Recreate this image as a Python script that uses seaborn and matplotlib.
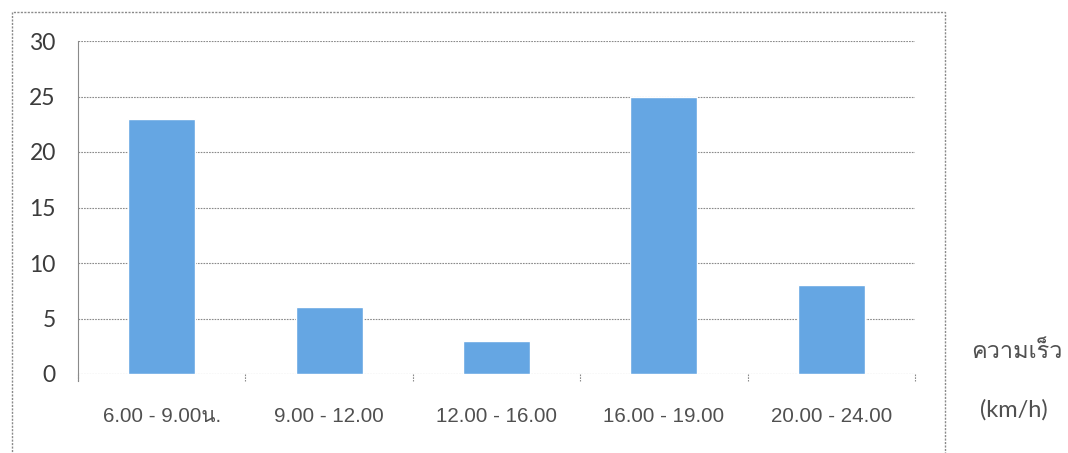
import matplotlib
matplotlib.use("Agg")
import matplotlib.pyplot as plt
import seaborn as sns
import pandas as pd
from matplotlib.patches import Rectangle

# Traffic speed by time of day
periods = ["6.00 - 9.00น.", "9.00 - 12.00", "12.00 - 16.00", "16.00 - 19.00", "20.00 - 24.00"]
speeds = [23, 6, 3, 25, 8]
y_ticks = [0, 5, 10, 15, 20, 25, 30]

sns.set_theme(style="white")
plt.rcParams["font.family"] = ["Liberation Sans", "Loma", "DejaVu Sans"]

df = pd.DataFrame({"period": periods, "speed": speeds})

W, H = 1068, 453
fig = plt.figure(figsize=(W / 100, H / 100), dpi=100)
ax = fig.add_axes([78 / W, 1 - 374 / H, (915 - 78) / W, (374 - 41) / H])

sns.barplot(data=df, x="period", y="speed", color="#65a6e3", saturation=1,
            width=0.4, ax=ax, zorder=3)

ax.set_ylim(0, 30)
ax.set_xlim(-0.5, len(periods) - 0.5)

grid_kw = dict(color="#8a8a8a", lw=0.8, ls=(0, (1.5, 1.0)))

# y axis labels
ax.set_yticks(y_ticks)
ax.set_yticklabels([str(v) for v in y_ticks], fontsize=16.5, color="#3c3c3c",
                   family=["Lato", "DejaVu Sans"])
ax.tick_params(axis="y", length=0, pad=16)

# horizontal gridlines
for v in y_ticks:
    ax.axhline(v, zorder=1, **grid_kw)

# category labels and boundary ticks
ax.set_xticks(range(len(periods)))
ax.set_xticklabels(periods, fontsize=14.8, color="#505050")
ax.tick_params(axis="x", length=0, pad=24)
for b in [i - 0.5 for i in range(len(periods) + 1)]:
    ax.plot([b, b], [0, -0.6], clip_on=False, zorder=2, **grid_kw)

ax.set_xlabel("")
ax.set_ylabel("")
for s in ["top", "right", "bottom"]:
    ax.spines[s].set_visible(False)
ax.spines["left"].set_color(grid_kw["color"])
ax.spines["left"].set_linestyle(grid_kw["ls"])
ax.spines["left"].set_linewidth(grid_kw["lw"])
ax.spines["left"].set_bounds(-0.6, 30)

# outer chart frame
frame = Rectangle((12 / W, -0.05), (945 - 12) / W, 1 - 12 / H + 0.05,
                  transform=fig.transFigure, fill=False, edgecolor="#8a8a8a",
                  lw=1.0, ls=(0, (1.5, 1.0)), clip_on=False)
fig.patches.append(frame)

# unit label beside the chart
fig.text(1017 / W, 1 - 352 / H, "ความเร็ว", fontsize=17, color="#505050",
         ha="center", va="center", family=["Loma", "DejaVu Sans"])
fig.text(1014 / W, 1 - 410 / H, "(km/h)", fontsize=17, color="#505050",
         ha="center", va="center", family=["Lato", "DejaVu Sans"])

fig.savefig("out.png", dpi=100, facecolor="white")
